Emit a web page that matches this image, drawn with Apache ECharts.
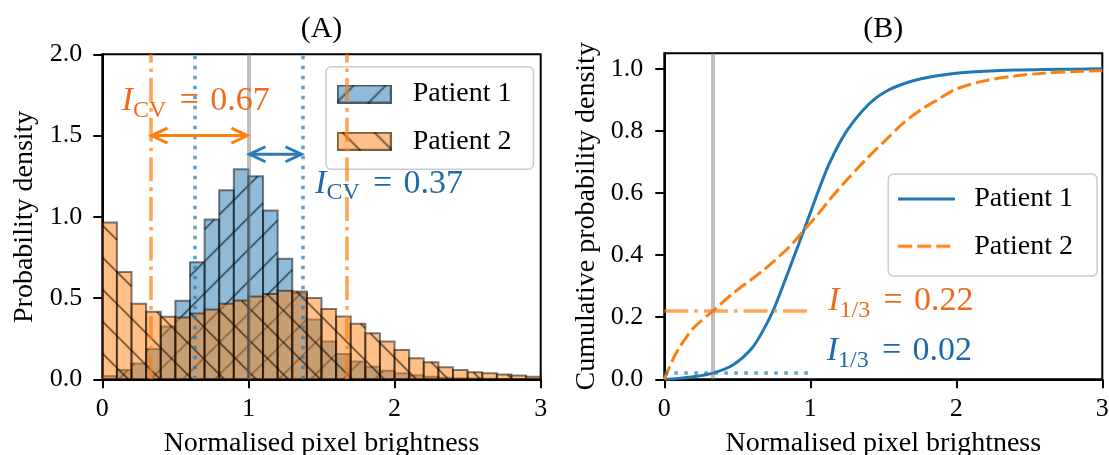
<!DOCTYPE html>
<html>
<head>
<meta charset="utf-8">
<script src="https://cdn.jsdelivr.net/npm/echarts@6/dist/echarts.min.js"></script>
<style>
html, body { margin: 0; padding: 0; background: #fff; }
#chart { width: 1109px; height: 455px; }
</style>
</head>
<body>
<div id="chart"></div>
<script>
// ---- data ----
// histogram bins (left edges), width 0.1
var binLeft = [0.0, 0.1, 0.2, 0.3, 0.4, 0.5, 0.6, 0.7, 0.8, 0.9,
               1.0, 1.1, 1.2, 1.3, 1.4, 1.5, 1.6, 1.7, 1.8, 1.9,
               2.0, 2.1, 2.2, 2.3, 2.4, 2.5, 2.6, 2.7, 2.8, 2.9]
var binWidth = 0.1
var patient1Hist = [0.02, 0.057, 0.098, 0.187, 0.325, 0.483, 0.72, 0.983, 1.164, 1.292,
                    1.25, 1.039, 0.742, 0.53, 0.368, 0.233, 0.155, 0.11, 0.078, 0.053,
                    0.037, 0.025, 0.016, 0.01, 0.007, 0.005, 0.003, 0.002, 0.001, 0.001]
var patient2Hist = [0.965, 0.66, 0.465, 0.415, 0.385, 0.38, 0.405, 0.43, 0.465, 0.485,
                    0.51, 0.525, 0.545, 0.54, 0.50, 0.432, 0.387, 0.342, 0.284, 0.233,
                    0.181, 0.13, 0.105, 0.074, 0.058, 0.043, 0.037, 0.029, 0.023, 0.016]

// cumulative curves (panel B)
var cdfX = [0, 0.05, 0.1, 0.2, 0.333, 0.47, 0.6, 0.68, 0.75, 0.82, 0.88, 0.96, 1.05, 1.13,
            1.25, 1.4, 1.52, 1.64, 1.76, 1.87, 2.0, 2.2, 2.4, 2.6, 2.8, 3.0]
var patient1Cdf = [0, 0.001, 0.003, 0.008, 0.02, 0.046, 0.1, 0.16, 0.226, 0.31, 0.385, 0.485, 0.6, 0.695,
                   0.8, 0.886, 0.928, 0.952, 0.968, 0.978, 0.986, 0.992, 0.996, 0.998, 0.999, 1.0]
var patient2Cdf = [0, 0.055, 0.1, 0.165, 0.22, 0.277, 0.323, 0.352, 0.38, 0.41, 0.438, 0.482, 0.53, 0.577,
                   0.642, 0.717, 0.772, 0.827, 0.869, 0.9, 0.935, 0.962, 0.977, 0.986, 0.991, 0.994]

var xTicks = [0, 1, 2, 3]
var densityTicks = [0, 0.5, 1.0, 1.5, 2.0]
var cdfTicks = [0, 0.2, 0.4, 0.6, 0.8, 1.0]

var meanValue = 1
var cvPatient1 = 0.37
var cvPatient2 = 0.67
var thirdValue = 1 / 3
var i13Patient1 = 0.02
var i13Patient2 = 0.22

var seriesNames = ['Patient 1', 'Patient 2']

// annotation anchors (data coords, text baseline) and texts
var cvLabelPos = [[0.133, 1.647], [1.456, 1.14]]
var cvLabelText = [['CV', '0.67'], ['CV', '0.37']]
var thirdLabelPos = [[1.123, 0.218], [1.112, 0.057]]
var thirdLabelText = [['1/3', '0.22'], ['1/3', '0.02']]
// arrows: from, to, height
var cvArrows = [[1 - cvPatient2, meanValue, 1.5], [meanValue, 1 + cvPatient1, 1.385]]

// ---- styles ----
var FONT = "'Liberation Serif', 'Times New Roman', serif"
var BLUE = '#1f77b4'
var ORANGE = '#ff7f0e'
var BLUE_FILL = 'rgba(31,119,180,0.5)'
var ORANGE_FILL = 'rgba(255,127,14,0.5)'
var EDGE = 'rgba(0,0,0,0.5)'
var BLUE_TEXT = '#1f68ab'
var ORANGE_TEXT = '#ec6b1c'
var HATCH = 32
var TICK_SIZE = 26
var LABEL_SIZE = 28

var measureCtx = document.createElement('canvas').getContext('2d')
function textWidth (str, size, style) {
  measureCtx.font = (style || '') + ' ' + size + 'px ' + FONT
  return measureCtx.measureText(str).width
}

// diagonal hatch segments inside a pixel rect; dir 1 = '/', -1 = '\'
function hatchLines (x0, y0, x1, y1, dir, phase) {
  var out = []
  var c
  if (dir > 0) {
    c = Math.ceil((x0 + y0 - phase) / HATCH) * HATCH + phase
    for (; c <= x1 + y1; c += HATCH) {
      var xa = Math.max(x0, c - y1)
      var xb = Math.min(x1, c - y0)
      if (xb > xa) out.push([xa, c - xa, xb, c - xb])
    }
  } else {
    c = Math.ceil((x0 - y1 - phase) / HATCH) * HATCH + phase
    for (; c <= x1 - y0; c += HATCH) {
      var xa2 = Math.max(x0, c + y0)
      var xb2 = Math.min(x1, c + y1)
      if (xb2 > xa2) out.push([xa2, xa2 - c, xb2, xb2 - c])
    }
  }
  return out
}

function histRender (fill, dir, phase) {
  return function (params, api) {
    var a = api.coord([api.value(0), 0])
    var b = api.coord([api.value(1), api.value(2)])
    var x0 = a[0], x1 = b[0], y0 = b[1], y1 = a[1]
    var children = [{
      type: 'rect',
      shape: { x: x0, y: y0, width: x1 - x0, height: y1 - y0 },
      style: { fill: fill }
    }]
    hatchLines(x0, y0, x1, y1, dir, phase).forEach(function (s) {
      children.push({
        type: 'line',
        shape: { x1: s[0], y1: s[1], x2: s[2], y2: s[3] },
        style: { stroke: EDGE, lineWidth: 2 }
      })
    })
    children.push({
      type: 'rect',
      shape: { x: x0, y: y0, width: x1 - x0, height: y1 - y0 },
      style: { fill: 'none', stroke: EDGE, lineWidth: 2 }
    })
    return { type: 'group', children: children }
  }
}

function patchIcon (fill, dir, phase) {
  var w = 55, h = 19
  var cv = document.createElement('canvas')
  cv.width = w; cv.height = h
  var g = cv.getContext('2d')
  g.fillStyle = fill
  g.fillRect(0, 0, w, h)
  g.strokeStyle = EDGE
  g.lineWidth = 2
  hatchLines(0, 0, w, h, dir, phase).forEach(function (s) {
    g.beginPath(); g.moveTo(s[0], s[1]); g.lineTo(s[2], s[3]); g.stroke()
  })
  g.strokeRect(1, 1, w - 2, h - 2)
  return 'image://' + cv.toDataURL()
}

function lineIcon (color, dash) {
  var w = 57, h = 20
  var cv = document.createElement('canvas')
  cv.width = w; cv.height = h
  var g = cv.getContext('2d')
  g.strokeStyle = color
  g.lineWidth = 3
  if (dash) g.setLineDash(dash)
  g.beginPath(); g.moveTo(0, h / 2); g.lineTo(w, h / 2); g.stroke()
  return 'image://' + cv.toDataURL()
}

function arrowRender (colors) {
  return function (params, api) {
    var y = api.value(2)
    var a = api.coord([api.value(0), y])
    var b = api.coord([api.value(1), y])
    var c = colors[params.dataIndex]
    var L = 17, W = 7.5
    var st = { stroke: c, fill: 'none', lineWidth: 3, lineJoin: 'miter' }
    return {
      type: 'group',
      children: [
        { type: 'line', shape: { x1: a[0] + 1, y1: a[1], x2: b[0] - 1, y2: b[1] }, style: st },
        { type: 'polyline', shape: { points: [[a[0] + L, a[1] - W], [a[0] + 1, a[1]], [a[0] + L, a[1] + W]] }, style: st },
        { type: 'polyline', shape: { points: [[b[0] - L, b[1] - W], [b[0] - 1, b[1]], [b[0] - L, b[1] + W]] }, style: st }
      ]
    }
  }
}

function mathRender (texts, colors) {
  return function (params, api) {
    var p = api.coord([api.value(0), api.value(1)])
    var t = texts[params.dataIndex]
    var c = colors[params.dataIndex]
    var fMain = 34, fSub = 24
    var wI = textWidth('I', fMain, 'italic')
    var wSub = textWidth(t[0], fSub)
    return {
      type: 'group',
      x: p[0],
      y: p[1],
      children: [
        { type: 'text', style: { text: 'I', x: 0, y: -0.305 * fMain, fontSize: fMain, fontStyle: 'italic', fontFamily: FONT, fill: c, verticalAlign: 'middle' } },
        { type: 'text', style: { text: t[0], x: wI, y: 6 - 0.305 * fSub, fontSize: fSub, fontFamily: FONT, fill: c, verticalAlign: 'middle' } },
        { type: 'text', style: { text: '\u2004=\u2004' + t[1], x: wI + wSub + 2, y: -0.305 * fMain, fontSize: fMain, fontFamily: FONT, fill: c, verticalAlign: 'middle' } }
      ]
    }
  }
}

function valueAxis (gridIndex, min, max, ticks, digits, margin, extra) {
  var ax = {
    type: 'value',
    gridIndex: gridIndex,
    min: min,
    max: max,
    splitLine: { show: false },
    axisLine: { show: true, lineStyle: { color: '#000', width: 2 } },
    axisTick: { show: true, length: 9, customValues: ticks, lineStyle: { color: '#000', width: 2 } },
    axisLabel: {
      customValues: ticks,
      margin: margin,
      fontFamily: FONT,
      fontSize: TICK_SIZE,
      color: '#000',
      formatter: function (v) { return v.toFixed(digits) }
    },
    nameLocation: 'middle',
    nameTextStyle: { fontFamily: FONT, fontSize: LABEL_SIZE, color: '#000' }
  }
  return Object.assign(ax, extra)
}

var chart = echarts.init(document.getElementById('chart'), null, { renderer: 'canvas' })

var titleA = '(A)', titleB = '(B)'
var TITLE_SIZE = 30
var option = {
  animation: false,
  backgroundColor: '#fff',
  title: [
    { text: titleA, left: 321.5 - textWidth(titleA, TITLE_SIZE) / 2, top: 14, padding: 0,
      textStyle: { fontFamily: FONT, fontSize: TITLE_SIZE, fontWeight: 'normal', color: '#000' } },
    { text: titleB, left: 883.3 - textWidth(titleB, TITLE_SIZE) / 2, top: 14, padding: 0,
      textStyle: { fontFamily: FONT, fontSize: TITLE_SIZE, fontWeight: 'normal', color: '#000' } }
  ],
  grid: [
    { left: 102.3, top: 54.3, width: 438.4, height: 325, outerBoundsMode: 'none', containLabel: false,
      show: true, borderColor: '#000', borderWidth: 2, backgroundColor: 'transparent' },
    { left: 664.3, top: 53.3, width: 438, height: 326, outerBoundsMode: 'none', containLabel: false,
      show: true, borderColor: '#000', borderWidth: 2, backgroundColor: 'transparent' }
  ],
  xAxis: [
    valueAxis(0, 0, 3, xTicks, 0, 17, { interval: 1, name: 'Normalised pixel brightness', nameGap: 50 }),
    valueAxis(1, 0, 3, xTicks, 0, 17, { interval: 1, name: 'Normalised pixel brightness', nameGap: 50 })
  ],
  yAxis: [
    valueAxis(0, 0, 2, densityTicks, 1, 20, { interval: 0.5, name: 'Probability density', nameGap: 64 }),
    valueAxis(1, 0, 1.05, cdfTicks, 1, 21, { interval: 0.2, name: 'Cumulative probability density', nameGap: 64 })
  ],
  legend: [
    {
      data: [
        { name: seriesNames[0], icon: patchIcon(BLUE_FILL, 1, 18) },
        { name: seriesNames[1], icon: patchIcon(ORANGE_FILL, -1, 5) }
      ],
      orient: 'vertical',
      left: 326,
      top: 66.7,
      itemWidth: 55,
      itemHeight: 19,
      itemGap: 19.3,
      padding: [13.3, 22, 14, 10.7],
      backgroundColor: 'rgba(255,255,255,0.8)',
      borderColor: '#cccccc',
      borderWidth: 1.5,
      borderRadius: 5,
      selectedMode: false,
      textStyle: { fontFamily: FONT, fontSize: LABEL_SIZE, color: '#000', lineHeight: 20, padding: [0, 0, 0, 16] }
    },
    {
      data: [
        { name: seriesNames[0], icon: lineIcon(BLUE) },
        { name: seriesNames[1], icon: lineIcon(ORANGE, [14, 5]) }
      ],
      orient: 'vertical',
      left: 888.3,
      top: 174,
      itemWidth: 57,
      itemHeight: 20,
      itemGap: 19.3,
      padding: [11, 24, 15.7, 10],
      backgroundColor: 'rgba(255,255,255,0.8)',
      borderColor: '#cccccc',
      borderWidth: 1.5,
      borderRadius: 5,
      selectedMode: false,
      textStyle: { fontFamily: FONT, fontSize: LABEL_SIZE, color: '#000', lineHeight: 20, padding: [0, 0, 0, 14] }
    }
  ],
  series: [
    {
      name: seriesNames[0],
      type: 'custom',
      xAxisIndex: 0,
      yAxisIndex: 0,
      clip: true,
      z: 2,
      encode: { x: [0, 1], y: 2 },
      renderItem: histRender(BLUE_FILL, 1, 18),
      data: binLeft.map(function (l, i) { return [l, l + binWidth, patient1Hist[i]] })
    },
    {
      name: seriesNames[1],
      type: 'custom',
      xAxisIndex: 0,
      yAxisIndex: 0,
      clip: true,
      z: 3,
      encode: { x: [0, 1], y: 2 },
      renderItem: histRender(ORANGE_FILL, -1, 5),
      data: binLeft.map(function (l, i) { return [l, l + binWidth, patient2Hist[i]] }),
      markLine: {
        silent: true,
        symbol: 'none',
        label: { show: false },
        animation: false,
        data: [
          { xAxis: meanValue, lineStyle: { color: 'rgba(128,128,128,0.5)', width: 4, type: 'solid' } },
          { xAxis: meanValue - cvPatient1, lineStyle: { color: 'rgba(31,119,180,0.7)', width: 3.6, type: [3.6, 6.4] } },
          { xAxis: meanValue + cvPatient1, lineStyle: { color: 'rgba(31,119,180,0.7)', width: 3.6, type: [3.6, 6.4] } },
          { xAxis: meanValue - cvPatient2, lineStyle: { color: 'rgba(255,127,14,0.7)', width: 3.6, type: [24, 6, 3.6, 6] } },
          { xAxis: meanValue + cvPatient2, lineStyle: { color: 'rgba(255,127,14,0.7)', width: 3.6, type: [24, 6, 3.6, 6] } }
        ]
      }
    },
    {
      name: 'cv arrows',
      type: 'custom',
      xAxisIndex: 0,
      yAxisIndex: 0,
      z: 6,
      renderItem: arrowRender([ORANGE, '#2b7bba']),
      data: cvArrows
    },
    {
      name: 'cv labels',
      type: 'custom',
      xAxisIndex: 0,
      yAxisIndex: 0,
      z: 6,
      renderItem: mathRender(cvLabelText, [ORANGE_TEXT, BLUE_TEXT]),
      data: cvLabelPos
    },
    {
      name: seriesNames[0],
      type: 'line',
      xAxisIndex: 1,
      yAxisIndex: 1,
      showSymbol: false,
      symbol: 'none',
      smooth: 0.3,
      z: 4,
      lineStyle: { color: BLUE, width: 3 },
      itemStyle: { color: BLUE },
      data: cdfX.map(function (x, i) { return [x, patient1Cdf[i]] }),
      markLine: {
        silent: true,
        symbol: 'none',
        label: { show: false },
        animation: false,
        data: [
          { xAxis: thirdValue, lineStyle: { color: 'rgba(128,128,128,0.5)', width: 4, type: 'solid' } },
          [{ coord: [0, i13Patient2], lineStyle: { color: 'rgba(255,127,14,0.7)', width: 3.6, type: [24, 6, 3.6, 6] } }, { coord: [1, i13Patient2] }],
          [{ coord: [0, i13Patient1], lineStyle: { color: 'rgba(31,119,180,0.7)', width: 3.6, type: [3.6, 6.4] } }, { coord: [1, i13Patient1] }]
        ]
      }
    },
    {
      name: seriesNames[1],
      type: 'line',
      xAxisIndex: 1,
      yAxisIndex: 1,
      showSymbol: false,
      symbol: 'none',
      smooth: 0.3,
      z: 4,
      lineStyle: { color: ORANGE, width: 3, type: [14, 5] },
      itemStyle: { color: ORANGE },
      data: cdfX.map(function (x, i) { return [x, patient2Cdf[i]] })
    },
    {
      name: 'third labels',
      type: 'custom',
      xAxisIndex: 1,
      yAxisIndex: 1,
      z: 6,
      renderItem: mathRender(thirdLabelText, [ORANGE_TEXT, BLUE_TEXT]),
      data: thirdLabelPos
    }
  ]
}
chart.setOption(option)
</script>
</body>
</html>
